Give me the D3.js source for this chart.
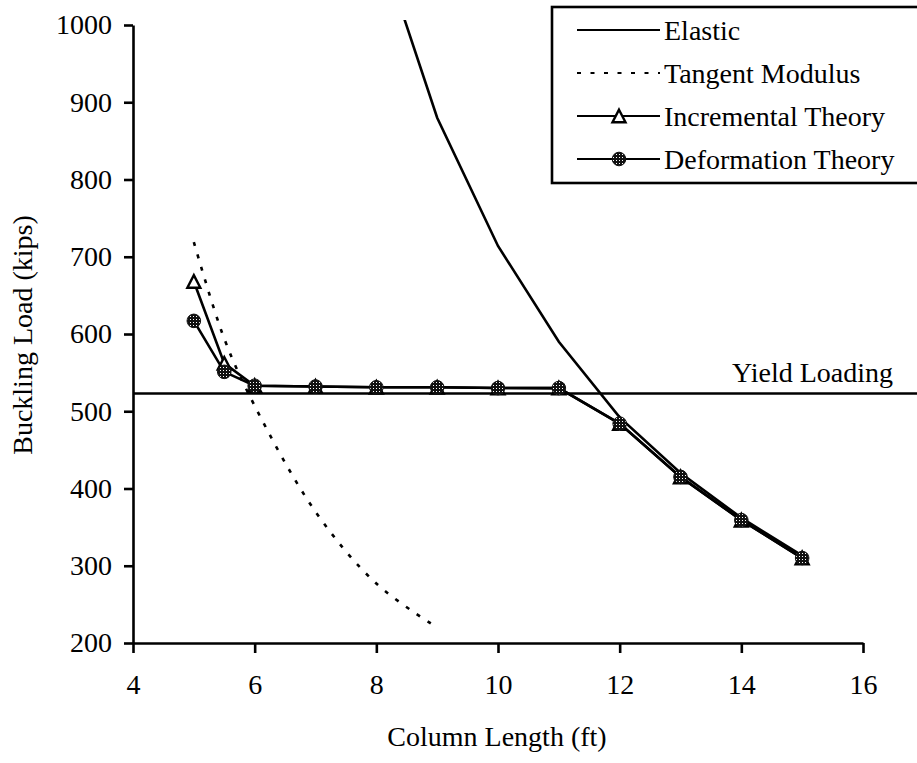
<!DOCTYPE html>
<html>
<head>
<meta charset="utf-8">
<script src="https://cdn.jsdelivr.net/npm/d3@7"></script>
<style>
  html, body { margin: 0; padding: 0; background: #fff; }
  svg { display: block; font-family: "Liberation Serif", "Times New Roman", serif; }
</style>
</head>
<body>
<svg id="chart" width="917" height="763"></svg>
<script>
// Column lengths (ft) for the inelastic analyses
const lengths = [5, 5.5, 6, 7, 8, 9, 10, 11, 12, 13, 14, 15];
// Buckling loads (kips)
const incremental = [668, 562, 533, 532, 531, 531, 530, 530, 484, 415, 359, 310];
const deformation = [617, 551, 533, 532, 531, 531, 530, 530, 484, 415, 359, 310];

const elasticLengths = [8, 9, 10, 11, 12, 13, 14, 15];
const elastic = [1117, 880, 714, 590, 492, 420, 362, 313];

const tangentLengths = [5, 5.5, 6, 7, 8, 9];
const tangent = [719, 594, 507, 370, 277, 220];

const yieldLoad = 523;
const yieldSpan = [4, 16.9];

const xTicks = [4, 6, 8, 10, 12, 14, 16];
const yTicks = [200, 300, 400, 500, 600, 700, 800, 900, 1000];

const legendItems = ["Elastic", "Tangent Modulus", "Incremental Theory", "Deformation Theory"];

const svg = d3.select("#chart");
const LW = 2.6;
const FS = 28;

const x = d3.scaleLinear().domain([4, 16]).range([133, 863]);
const y = d3.scaleLinear().domain([200, 1000]).range([643, 25]);

// stippled fill for the round markers
const defs = svg.append("defs");
const pat = defs.append("pattern").attr("id", "stipple")
  .attr("width", 3).attr("height", 3).attr("patternUnits", "userSpaceOnUse");
pat.append("rect").attr("width", 3).attr("height", 3).attr("fill", "#111");
pat.append("rect").attr("x", 1).attr("y", 1).attr("width", 1).attr("height", 1).attr("fill", "#fff");

defs.append("clipPath").attr("id", "plotClip")
  .append("rect").attr("x", 0).attr("y", 20).attr("width", 917).attr("height", 700);

// axes
const xAxis = d3.axisBottom(x).tickValues(xTicks).tickSizeInner(10).tickSizeOuter(0).tickPadding(21)
  .tickFormat(d3.format("d"));
const yAxis = d3.axisLeft(y).tickValues(yTicks).tickSizeInner(9).tickSizeOuter(0).tickPadding(12)
  .tickFormat(d3.format("d"));

const gx = svg.append("g").attr("transform", `translate(0,${y(200)})`).call(xAxis);
const gy = svg.append("g").attr("transform", `translate(${x(4)},0)`).call(yAxis);
[gx, gy].forEach(g => {
  g.selectAll("path, line").attr("stroke", "#000").attr("stroke-width", LW);
  g.selectAll("text").attr("fill", "#000").attr("font-size", FS)
    .attr("font-family", "Liberation Serif, serif");
});

// axis titles
svg.append("text").attr("x", 497).attr("y", 746).attr("text-anchor", "middle")
  .attr("font-size", FS).text("Column Length (ft)");
svg.append("text").attr("transform", "translate(32,335) rotate(-90)").attr("text-anchor", "middle")
  .attr("font-size", FS).text("Buckling Load (kips)");

const line = d3.line().x(d => x(d[0])).y(d => y(d[1]));
const smooth = d3.line().x(d => x(d[0])).y(d => y(d[1])).curve(d3.curveCatmullRom.alpha(0.5));

const plot = svg.append("g").attr("clip-path", "url(#plotClip)");

// yield loading reference line
plot.append("path")
  .attr("d", line(yieldSpan.map(L => [L, yieldLoad])))
  .attr("fill", "none").attr("stroke", "#000").attr("stroke-width", LW);
svg.append("text").attr("x", 732).attr("y", 382).attr("font-size", FS).text("Yield Loading");

// elastic (Euler) curve
plot.append("path")
  .attr("d", line(elasticLengths.map((L, i) => [L, elastic[i]])))
  .attr("fill", "none").attr("stroke", "#000").attr("stroke-width", LW);

// tangent modulus curve
plot.append("path")
  .attr("d", smooth(tangentLengths.map((L, i) => [L, tangent[i]])))
  .attr("fill", "none").attr("stroke", "#000").attr("stroke-width", LW)
  .attr("stroke-dasharray", "4,9");

// incremental and deformation theory lines
const incPts = lengths.map((L, i) => [L, incremental[i]]);
const defPts = lengths.map((L, i) => [L, deformation[i]]);
plot.append("path").attr("d", line(incPts))
  .attr("fill", "none").attr("stroke", "#000").attr("stroke-width", LW);

const triPath = "M0,-6.3L6.5,6.3L-6.5,6.3Z";
plot.selectAll(".tri").data(incPts).join("path").attr("class", "tri")
  .attr("transform", d => `translate(${x(d[0])},${y(d[1])})`)
  .attr("d", triPath).attr("fill", "#fff").attr("stroke", "#000").attr("stroke-width", 2.4);

plot.append("path").attr("d", line(defPts))
  .attr("fill", "none").attr("stroke", "#000").attr("stroke-width", LW);
plot.selectAll(".dot").data(defPts).join("circle").attr("class", "dot")
  .attr("cx", d => x(d[0])).attr("cy", d => y(d[1])).attr("r", 6.8)
  .attr("fill", "url(#stipple)").attr("stroke", "#111").attr("stroke-width", 1);

// legend
const lg = svg.append("g");
lg.append("rect").attr("x", 552).attr("y", 7).attr("width", 400).attr("height", 176)
  .attr("fill", "#fff").attr("stroke", "#000").attr("stroke-width", LW);
const rowY = [30, 73, 116, 159];
legendItems.forEach((name, i) => {
  const yy = rowY[i];
  const ln = lg.append("line").attr("x1", 577).attr("x2", 660).attr("y1", yy).attr("y2", yy)
    .attr("stroke", "#000").attr("stroke-width", 2.2);
  if (i === 1) ln.attr("stroke-dasharray", "4,9.5");
  if (i === 2) lg.append("path").attr("transform", `translate(619,${yy})`).attr("d", triPath)
    .attr("fill", "#fff").attr("stroke", "#000").attr("stroke-width", 2.4);
  if (i === 3) lg.append("circle").attr("cx", 619).attr("cy", yy).attr("r", 6.8)
    .attr("fill", "url(#stipple)").attr("stroke", "#111").attr("stroke-width", 1);
  lg.append("text").attr("x", 664).attr("y", yy + 10).attr("font-size", FS).text(name);
});
</script>
</body>
</html>
